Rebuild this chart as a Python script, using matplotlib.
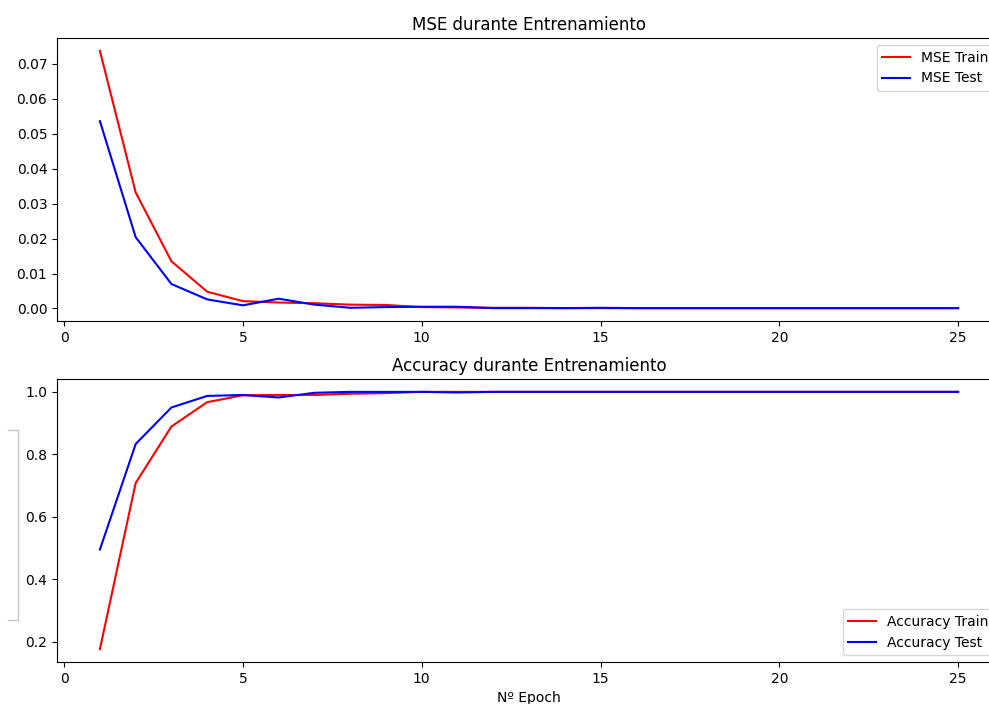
import matplotlib
matplotlib.use("Agg")
import matplotlib.pyplot as plt
from matplotlib.lines import Line2D

epochs = list(range(1, 26))

mse_train = [0.0737, 0.0332, 0.0135, 0.0048, 0.0021, 0.0017, 0.0015, 0.0011, 0.0010, 0.0004,
             0.0003, 0.0002, 0.0002, 0.0001, 0.0001, 0.0001, 0.0001, 0.0001, 0.0001, 0.0001,
             0.0001, 0.0001, 0.0001, 0.0001, 0.0001]
mse_test = [0.0536, 0.0204, 0.0070, 0.0026, 0.0009, 0.0028, 0.0011, 0.0002, 0.0004, 0.0005,
            0.0005, 0.0001, 0.0001, 0.0001, 0.0002, 0.0001, 0.0001, 0.0001, 0.0001, 0.0001,
            0.0001, 0.0001, 0.0001, 0.0001, 0.0001]

acc_train = [0.176, 0.708, 0.889, 0.967, 0.989, 0.990, 0.990, 0.994, 0.996, 1.000,
             1.000, 1.000, 1.000, 1.000, 1.000, 1.000, 1.000, 1.000, 1.000, 1.000,
             1.000, 1.000, 1.000, 1.000, 1.000]
acc_test = [0.495, 0.833, 0.950, 0.987, 0.990, 0.982, 0.997, 1.000, 1.000, 1.000,
            0.998, 1.000, 1.000, 1.000, 1.000, 1.000, 1.000, 1.000, 1.000, 1.000,
            1.000, 1.000, 1.000, 1.000, 1.000]

fig = plt.figure(figsize=(9.89, 7.04), dpi=100)

W, H = 989, 704
left = 57 / W
width = 944 / W
ax1 = fig.add_axes([left, (H - 321) / H, width, 283 / H])
ax2 = fig.add_axes([left, (H - 662) / H, width, 283 / H])

ax1.plot(epochs, mse_train, color="red", label="MSE Train")
ax1.plot(epochs, mse_test, color="blue", label="MSE Test")
ax1.set_title("MSE durante Entrenamiento")
ax1.legend(loc="upper right")

ax2.plot(epochs, acc_train, color="red", label="Accuracy Train")
ax2.plot(epochs, acc_test, color="blue", label="Accuracy Test")
ax2.set_title("Accuracy durante Entrenamiento")
ax2.set_xlabel("Nº Epoch")
ax2.legend(loc="lower right")

# thin grey bracket at the left edge
bx0, bx1 = 8 / W, 18 / W
by0, by1 = (H - 430) / H, (H - 620) / H
for xs, ys in [([bx0, bx1], [by0, by0]), ([bx1, bx1], [by0, by1]), ([bx0, bx1], [by1, by1])]:
    fig.add_artist(Line2D(xs, ys, transform=fig.transFigure, color="#c8c8c8", lw=1))

fig.savefig("out.png", dpi=100)
